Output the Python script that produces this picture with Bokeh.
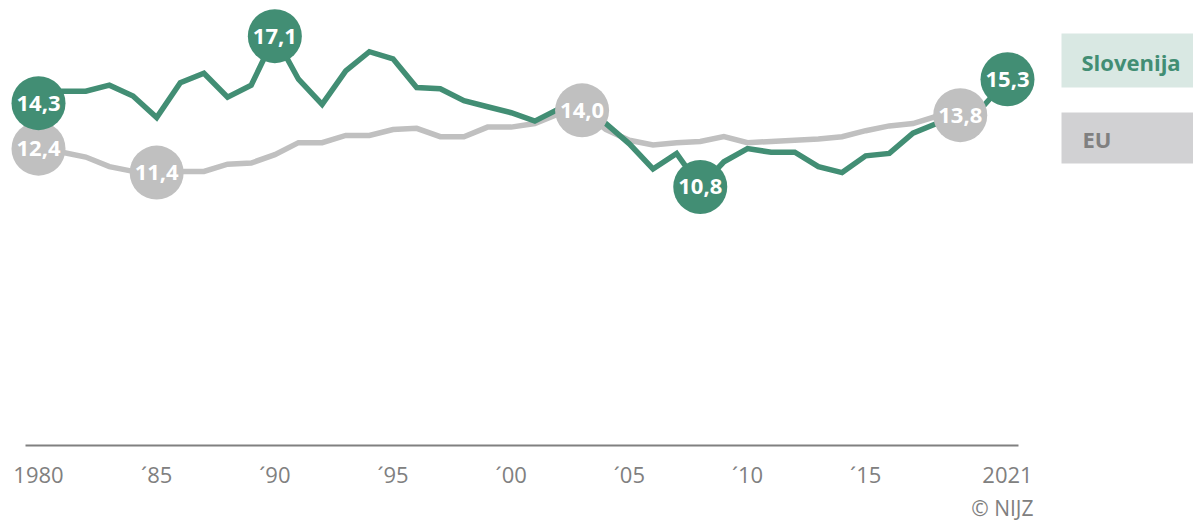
from bokeh.plotting import figure
from bokeh.models import ColumnDataSource, Range1d, FixedTicker, Title
from bokeh.layouts import row
from bokeh.embed import file_html
from bokeh.resources import INLINE
from bokeh.core.properties import value

# ---------------- data ----------------
years = list(range(1980, 2022))
slovenija = [14.3, 14.8, 14.8, 15.05, 14.6, 13.7, 15.15, 15.55, 14.55, 15.05,
             17.1, 15.3, 14.25, 15.65, 16.45, 16.15, 14.95, 14.9, 14.4, 14.15,
             13.9, 13.55, 14.05, 14.2, 13.45, 12.6, 11.55, 12.2, 10.8, 11.85,
             12.4, 12.25, 12.25, 11.65, 11.4, 12.1, 12.2, 13.05, 13.45, 13.8,
             14.2, 15.3]
eu_years = list(range(1980, 2020))
eu = [12.4, 12.25, 12.05, 11.65, 11.45, 11.4, 11.45, 11.45, 11.75, 11.8,
      12.15, 12.65, 12.65, 12.95, 12.95, 13.2, 13.25, 12.9, 12.9, 13.3,
      13.3, 13.45, 13.85, 14.0, 13.2, 12.75, 12.55, 12.65, 12.7, 12.9,
      12.65, 12.7, 12.75, 12.8, 12.9, 13.15, 13.35, 13.45, 13.75, 13.8]
slo_marked_years = [1980, 1990, 2008, 2021]
eu_marked_years = [1980, 1985, 2003, 2019]
tick_years = [1980, 1985, 1990, 1995, 2000, 2005, 2010, 2015, 2021]
tick_labels = ["1980", "´85", "´90", "´95", "´00", "´05", "´10", "´15", "2021"]
series_names = ["Slovenija", "EU"]
credit = "© NIJZ"

GREEN = "#428e74"
GREY = "#c0c0c0"
AXIS_GREY = "#808080"
LEGEND_FILLS = ["#d9e8e3", "#d1d1d3"]
LEGEND_TEXT = [GREEN, AXIS_GREY]
FONT = "Open Sans"


def fmt(v):
    return f"{v:.1f}".replace(".", ",")


slo_marks = ColumnDataSource(dict(
    x=slo_marked_years,
    y=[slovenija[years.index(y)] for y in slo_marked_years],
    t=[fmt(slovenija[years.index(y)]) for y in slo_marked_years]))
eu_marks = ColumnDataSource(dict(
    x=eu_marked_years,
    y=[eu[eu_years.index(y)] for y in eu_marked_years],
    t=[fmt(eu[eu_years.index(y)]) for y in eu_marked_years]))

# ---------------- main chart ----------------
PX_PER_YEAR = 23.634
PX_PER_UNIT = 23.94
W_MAIN, H = 1058, 521
FRAME_R = 1045
FRAME_B = 448
x_start = years[0] - 38 / PX_PER_YEAR
x_end = years[0] + (FRAME_R - 38) / PX_PER_YEAR
y_start = -(FRAME_B - 445) / PX_PER_UNIT
y_end = 445 / PX_PER_UNIT

p = figure(width=W_MAIN, height=H,
           x_range=Range1d(x_start, x_end), y_range=Range1d(y_start, y_end),
           output_backend="svg", toolbar_location=None,
           y_axis_location=None,
           min_border_left=0, min_border_right=W_MAIN - FRAME_R,
           min_border_top=0, min_border_bottom=H - FRAME_B)
p.outline_line_color = None
p.grid.visible = False
p.background_fill_color = "white"
p.border_fill_color = "white"

ax = p.xaxis[0]
ax.ticker = FixedTicker(ticks=tick_years)
ax.major_label_overrides = dict(zip(tick_years, tick_labels))
ax.axis_line_color = None
ax.major_tick_line_color = None
ax.minor_tick_line_color = None
ax.major_tick_out = 0
ax.major_label_standoff = 10
ax.major_label_text_font = FONT
ax.major_label_text_font_size = "22px"
ax.major_label_text_color = AXIS_GREY

# baseline (x-axis line), slightly beyond first/last year
p.segment(x0=[years[0] - 13 / PX_PER_YEAR], y0=[0],
          x1=[years[-1] + 11 / PX_PER_YEAR], y1=[0],
          line_color=AXIS_GREY, line_width=2)

p.line(eu_years, eu, line_color=GREY, line_width=5.5, line_join="miter")
p.line(years, slovenija, line_color=GREEN, line_width=5.5, line_join="miter")

p.scatter("x", "y", source=eu_marks, size=54, fill_color=GREY, line_color=None)
p.scatter("x", "y", source=slo_marks, size=54, fill_color=GREEN, line_color=None)

for src in (eu_marks, slo_marks):
    p.text("x", "y", text="t", source=src, text_align="center",
           text_baseline="middle", text_color="white",
           text_font=value(FONT), text_font_style="bold",
           text_font_size="22px")

p.add_layout(Title(text=credit, align="right", offset=12, standoff=0,
                   text_font=FONT, text_font_style="normal",
                   text_font_size="21px", text_color=AXIS_GREY), "below")

# ---------------- legend (frame aligned with main frame) ----------------
W_LEG = 1193 - W_MAIN
lg = figure(width=W_LEG, height=H, x_range=Range1d(0, W_LEG),
            y_range=Range1d(FRAME_B, 0), output_backend="svg",
            toolbar_location=None, x_axis_location=None,
            y_axis_location=None, min_border_left=0, min_border_right=0,
            min_border_top=0, min_border_bottom=H - FRAME_B)
lg.outline_line_color = None
lg.grid.visible = False
lg_tops = [33, 112]
lg_bottoms = [87, 163]
lg.quad(left=[3, 3], right=[W_LEG, W_LEG], top=lg_tops, bottom=lg_bottoms,
        fill_color=LEGEND_FILLS, line_color=None)
lg.text(x=[23, 24], y=[(a + b) / 2 + 1 for a, b in zip(lg_tops, lg_bottoms)],
        text=series_names, text_color=LEGEND_TEXT, text_baseline="middle",
        text_font=value(FONT), text_font_style="bold", text_font_size="22px")

layout = row(p, lg, spacing=0)
open("out.html", "w").write(file_html(layout, INLINE))
